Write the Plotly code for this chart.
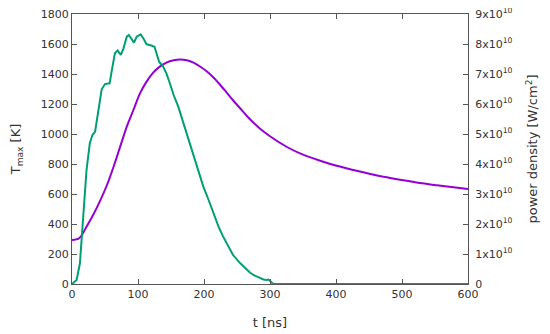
import plotly.graph_objects as go

# Temperature T_max [K] (left axis)
t_T = [0, 10, 15, 22, 32, 42, 53, 63, 73, 83, 93, 103, 113, 123, 133, 143, 154, 164,
       174, 184, 194, 204, 214, 224, 234, 244, 255, 265, 275, 285, 300, 325, 350,
       376, 401, 426, 452, 477, 502, 527, 553, 578, 600]
T_max = [293, 302, 327, 382, 460, 549, 660, 782, 916, 1049, 1160, 1271, 1349, 1409,
         1449, 1476, 1491, 1496, 1491, 1476, 1450, 1418, 1378, 1330, 1278, 1225, 1170,
         1120, 1075, 1035, 985, 915, 862, 822, 788, 760, 734, 711, 691, 673, 658, 645, 634]

# Power density [W/cm^2] (right axis)
t_P = [0, 7, 12, 17, 22, 27, 31, 35, 40, 45, 50, 57, 60, 65, 69, 74, 78, 83, 86, 90,
       94, 98, 104, 108, 113, 118, 125, 128, 132, 138, 143, 148, 154, 161, 169, 176,
       184, 191, 199, 207, 214, 222, 229, 237, 244, 255, 265, 270, 275, 280, 285, 290,
       295, 298, 302, 305, 400, 500, 600]
P_equiv_K = [0, 27, 138, 449, 760, 938, 993, 1016, 1160, 1298, 1333, 1338, 1416, 1538,
             1556, 1527, 1571, 1649, 1660, 1638, 1609, 1649, 1664, 1638, 1598, 1593, 1582,
             1538, 1482, 1449, 1404, 1342, 1260, 1182, 1071, 982, 871, 760, 649, 560, 471,
             382, 316, 249, 193, 138, 93, 75, 60, 50, 38, 30, 27, 30, 12, 0, 0, 0, 0]
power = [v * 5e7 for v in P_equiv_K]

y2_vals = [0, 1e10, 2e10, 3e10, 4e10, 5e10, 6e10, 7e10, 8e10, 9e10]
y2_text = ["0"] + [f"{i}x10<sup>10</sup>" for i in range(1, 10)]

fig = go.Figure()
fig.add_trace(go.Scatter(x=t_T, y=T_max, mode="lines",
                         line=dict(color="#9400d3", width=2, shape="spline", smoothing=0.8),
                         showlegend=False))
fig.add_trace(go.Scatter(x=t_P, y=power, mode="lines", yaxis="y2",
                         line=dict(color="#009e73", width=2), showlegend=False))

axcol = "#555555"
font = dict(family="DejaVu Sans", size=11, color="#333333")
fig.update_layout(
    width=550, height=334,
    margin=dict(l=64, r=90, t=6, b=58),
    paper_bgcolor="white", plot_bgcolor="white",
    font=font,
    xaxis=dict(range=[0, 600], tickvals=[0, 100, 200, 300, 400, 500, 600], automargin=False,
               ticks="inside", ticklen=5, tickcolor=axcol, showline=True, linecolor=axcol,
               linewidth=1, mirror="ticks", showgrid=False, zeroline=False,
               ticklabeloverflow="allow",
               title=dict(text="t [ns]", standoff=17)),
    yaxis=dict(range=[0, 1800], tickvals=list(range(0, 1801, 200)), automargin=False,
               ticks="inside", ticklen=5, tickcolor=axcol, showline=True, linecolor=axcol,
               linewidth=1, showgrid=False, zeroline=False,
               ticklabeloverflow="allow",
               title=dict(text="T<sub>max</sub> [K]", standoff=18)),
    yaxis2=dict(range=[0, 9e10], tickvals=y2_vals, ticktext=y2_text, overlaying="y", side="right",
                automargin=False, ticklabelstandoff=4,
                ticks="inside", ticklen=5, tickcolor=axcol, showline=True, linecolor=axcol,
                linewidth=1, showgrid=False, zeroline=False,
                ticklabeloverflow="allow",
                title=dict(text="power density [W/cm<sup>2</sup>]", standoff=16)),
)

fig.write_html("out.html")
